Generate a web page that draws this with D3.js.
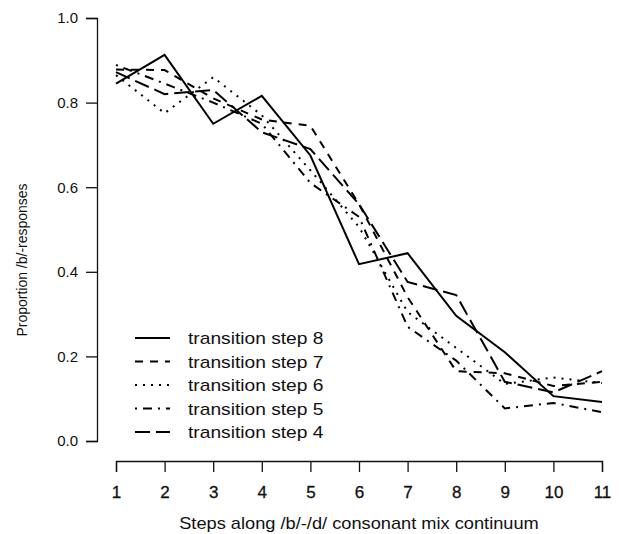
<!DOCTYPE html>
<html><head><meta charset="utf-8">
<script src="https://cdn.jsdelivr.net/npm/d3@7"></script>
<style>body{margin:0;background:#fff}svg{display:block}text{font-family:"Liberation Sans",Arial,sans-serif;fill:#111}</style>
</head><body>
<script>
const steps = [1,2,3,4,5,6,7,8,9,10,11];
const yTicks = [0,0.2,0.4,0.6,0.8,1.0];
const seriesNames = ["transition step 8","transition step 7","transition step 6","transition step 5","transition step 4"];
const step8 = [0.845,0.913,0.750,0.816,0.675,0.418,0.444,0.296,0.210,0.106,0.092];
const step7 = [0.878,0.877,0.810,0.760,0.745,0.560,0.340,0.165,0.160,0.130,0.140];
const step6 = [0.865,0.775,0.860,0.770,0.640,0.506,0.305,0.220,0.135,0.150,0.137];
const step5 = [0.889,0.845,0.800,0.750,0.610,0.530,0.270,0.190,0.077,0.090,0.068];
const step4 = [0.872,0.820,0.830,0.730,0.690,0.560,0.376,0.345,0.140,0.115,0.165];
const seriesValues = [step8,step7,step6,step5,step4];
const dashes = [null,"8,7","2,6","2,6,9,6","15,6"];

const W=619,H=534;
const svg=d3.select("body").append("svg").attr("width",W).attr("height",H);
const x=d3.scaleLinear().domain([1,11]).range([116,602]);
const y=d3.scaleLinear().domain([0,1]).range([441,18]);

// y axis
const ya=svg.append("g").attr("transform","translate(97,0)")
  .call(d3.axisLeft(y).tickValues(yTicks).tickFormat(d3.format(".1f")).tickSizeOuter(0).tickSize(11).tickPadding(8));
ya.select(".domain").attr("stroke","#111").attr("stroke-width",1.3);
ya.selectAll(".tick line").attr("stroke","#111").attr("stroke-width",1.3);
ya.selectAll("text").attr("font-size",15).style("font-family","Liberation Sans, Arial, sans-serif").attr("fill","#111");

// x axis
const xa=svg.append("g").attr("transform","translate(0,461)")
  .call(d3.axisBottom(x).tickValues(steps).tickFormat(d3.format("d")).tickSizeOuter(0).tickSize(11).tickPadding(14));
xa.select(".domain").attr("stroke","#111").attr("stroke-width",1.3);
xa.selectAll(".tick line").attr("stroke","#111").attr("stroke-width",1.3);
xa.selectAll("text").attr("font-size",17).style("font-family","Liberation Sans, Arial, sans-serif").attr("fill","#111")
  .attr("stroke","#111").attr("stroke-width",0.3);

svg.append("text").attr("transform","translate(359,529) scale(1.14,1)").attr("text-anchor","middle").attr("font-size",16)
  .text("Steps along /b/-/d/ consonant mix continuum");
svg.append("text").attr("transform","translate(27,260) rotate(-90) scale(1,1.1)").attr("text-anchor","middle").attr("font-size",14)
  .text("Proportion /b/-responses");

const line=d3.line().x((d,i)=>x(steps[i])).y(d=>y(d));
seriesValues.forEach((vals,k)=>{
  svg.append("path").datum(vals).attr("d",line).attr("fill","none").attr("stroke","#000")
    .attr("stroke-width",2).attr("stroke-dasharray",dashes[k]);
});

// legend
const lg=svg.append("g");
seriesNames.forEach((n,k)=>{
  const yy=338+k*23.5;
  lg.append("line").attr("x1",135).attr("x2",170).attr("y1",yy).attr("y2",yy)
    .attr("stroke","#000").attr("stroke-width",2).attr("stroke-dasharray",dashes[k]);
  lg.append("text").attr("transform",`translate(188,${yy+6}) scale(1.2,1)`).attr("font-size",16).text(n);
});
</script>
</body></html>
